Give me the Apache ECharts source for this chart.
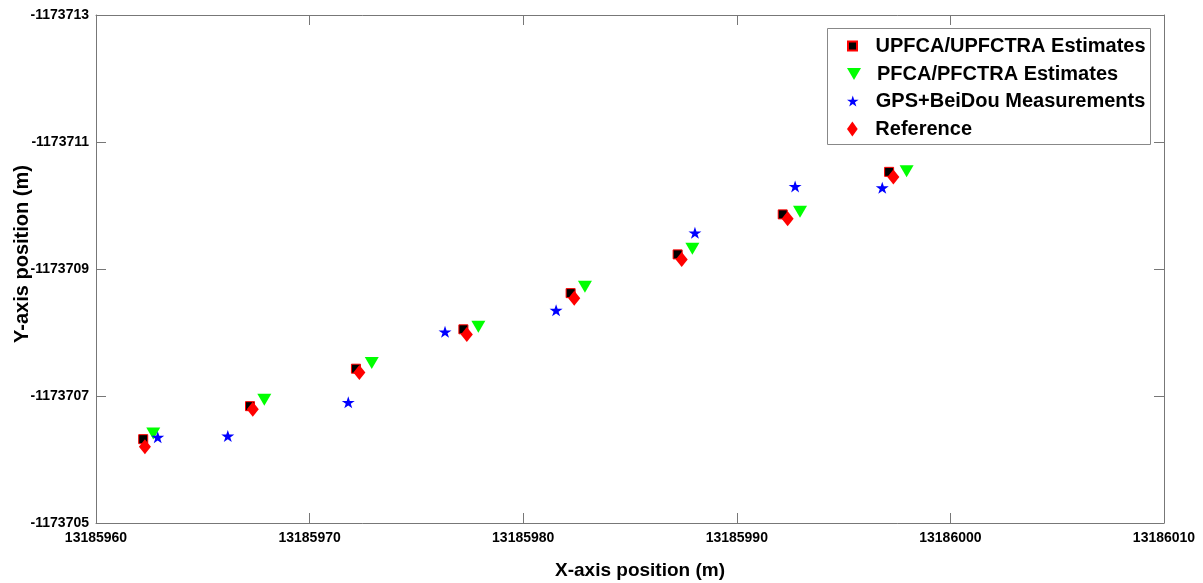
<!DOCTYPE html>
<html>
<head>
<meta charset="utf-8">
<script src="https://cdn.jsdelivr.net/npm/echarts@6/dist/echarts.min.js"></script>
<style>
html,body{margin:0;padding:0;background:#fff;}
#chart{width:1203px;height:583px;}
</style>
</head>
<body>
<div id="chart"></div>
<script>
// Series names
const seriesNames = ['UPFCA/UPFCTRA Estimates', 'PFCA/PFCTRA Estimates', 'GPS+BeiDou Measurements', 'Reference'];

// UPFCA/UPFCTRA Estimates
const upfcaX = [13185962.21, 13185967.21, 13185972.17, 13185977.20, 13185982.22, 13185987.23, 13185992.15, 13185997.13];
const upfcaY = [-1173706.32, -1173706.84, -1173707.43, -1173708.05, -1173708.62, -1173709.23, -1173709.86, -1173710.53];

// PFCA/PFCTRA Estimates
const pfcaX = [13185962.68, 13185967.88, 13185972.91, 13185977.90, 13185982.89, 13185987.92, 13185992.96, 13185997.95];
const pfcaY = [-1173706.41, -1173706.94, -1173707.52, -1173708.09, -1173708.72, -1173709.32, -1173709.90, -1173710.54];

// GPS+BeiDou Measurements
const gpsX = [13185962.89, 13185966.17, 13185971.81, 13185976.34, 13185981.54, 13185988.04, 13185992.73, 13185996.81];
const gpsY = [-1173706.35, -1173706.37, -1173706.90, -1173708.01, -1173708.35, -1173709.57, -1173710.30, -1173710.28];

// Reference
const refX = [13185962.29, 13185967.34, 13185972.33, 13185977.36, 13185982.39, 13185987.42, 13185992.38, 13185997.33];
const refY = [-1173706.20, -1173706.79, -1173707.37, -1173707.97, -1173708.54, -1173709.15, -1173709.79, -1173710.45];

// Axis ticks
const xMin = 13185960, xMax = 13186010, xStep = 10;
const yTicks = [-1173713, -1173711, -1173709, -1173707, -1173705];

const zip = (xs, ys) => xs.map((x, i) => [x, ys[i]]);

const FONT = 'Liberation Sans, Arial, Helvetica, sans-serif';
const AXIS_COLOR = '#777';
const SQUARE = 'path://M0,0H10V10H0Z';
const TRI_DOWN = 'path://M0,0L14,0L7,12Z';
const STAR = 'path://M50,0L61.2,34.5L97.6,34.5L68.2,55.9L79.4,90.5L50,69.1L20.6,90.5L31.8,55.9L2.4,34.5L38.8,34.5Z';
const DIAMOND = 'path://M5,0L10,7L5,14L0,7Z';

const legendRows = [
  {name: seriesNames[0], icon: SQUARE, cy: 46, h: 9},
  {name: seriesNames[1], icon: TRI_DOWN, cy: 74, h: 12},
  {name: seriesNames[2], icon: STAR, cy: 101, h: 11},
  {name: seriesNames[3], icon: DIAMOND, cy: 129, h: 15}
];

const legends = legendRows.map(r => ({
  data: [{name: r.name, icon: r.icon}],
  orient: 'vertical',
  left: 847,
  top: r.cy - 10,
  padding: 0,
  itemWidth: 36,
  itemHeight: r.h,
  symbolKeepAspect: true,
  selectedMode: false,
  textStyle: {fontFamily: FONT, fontSize: 20, fontWeight: 'bold', color: '#000', lineHeight: 20}
}));

const chart = echarts.init(document.getElementById('chart'), null, {renderer: 'canvas'});
chart.setOption({
  animation: false,
  backgroundColor: '#fff',
  grid: {left: 96, right: 39, top: 15, bottom: 60, containLabel: false, outerBoundsMode: 'none'},
  graphic: [{
    type: 'rect', left: 827, top: 28, z: 0,
    shape: {width: 323, height: 116},
    style: {fill: '#fff', stroke: '#888', lineWidth: 1}
  }],
  legend: legends,
  xAxis: [{
    type: 'value', position: 'bottom', min: xMin, max: xMax, interval: xStep,
    name: 'X-axis position (m)', nameLocation: 'middle', nameGap: 38, nameMoveOverlap: false,
    nameTextStyle: {fontFamily: FONT, fontSize: 19, fontWeight: 'bold', color: '#000', padding: [0, 0, 0, 20]},
    axisLine: {show: true, lineStyle: {color: AXIS_COLOR, width: 1}},
    axisTick: {show: true, inside: true, length: 10, lineStyle: {color: AXIS_COLOR}},
    axisLabel: {fontFamily: FONT, fontSize: 14, fontWeight: 'bold', color: '#000', margin: 8,
      formatter: v => String(v), showMinLabel: true, showMaxLabel: true},
    splitLine: {show: false}
  }, {
    type: 'value', position: 'top', min: xMin, max: xMax, interval: xStep,
    axisLine: {show: true, lineStyle: {color: AXIS_COLOR, width: 1}},
    axisTick: {show: true, inside: true, length: 10, lineStyle: {color: AXIS_COLOR}},
    axisLabel: {show: false},
    splitLine: {show: false}
  }],
  yAxis: [{
    type: 'value', position: 'left', inverse: true, min: yTicks[0], max: yTicks[yTicks.length - 1],
    name: 'Y-axis position (m)', nameLocation: 'middle', nameGap: 64, nameRotate: 90, nameMoveOverlap: false,
    nameTextStyle: {fontFamily: FONT, fontSize: 20, fontWeight: 'bold', color: '#000', padding: [0, 0, 0, 30]},
    axisLine: {show: true, lineStyle: {color: AXIS_COLOR, width: 1}},
    axisTick: {show: true, inside: true, length: 10, customValues: yTicks, lineStyle: {color: AXIS_COLOR}},
    axisLabel: {fontFamily: FONT, fontSize: 14, fontWeight: 'bold', color: '#000', margin: 7,
      customValues: yTicks, formatter: v => String(v)},
    splitLine: {show: false}
  }, {
    type: 'value', position: 'right', inverse: true, min: yTicks[0], max: yTicks[yTicks.length - 1],
    axisLine: {show: true, lineStyle: {color: AXIS_COLOR, width: 1}},
    axisTick: {show: true, inside: true, length: 10, customValues: yTicks, lineStyle: {color: AXIS_COLOR}},
    axisLabel: {show: false},
    splitLine: {show: false}
  }],
  series: [{
    name: seriesNames[0], type: 'scatter', xAxisIndex: 0, yAxisIndex: 0,
    symbol: 'rect', symbolSize: 9,
    itemStyle: {color: '#000', borderColor: '#ff0000', borderWidth: 1, opacity: 1},
    data: zip(upfcaX, upfcaY), z: 2
  }, {
    name: seriesNames[1], type: 'scatter', xAxisIndex: 0, yAxisIndex: 0,
    symbol: TRI_DOWN, symbolSize: [14, 12],
    itemStyle: {color: '#00ff00', opacity: 1},
    data: zip(pfcaX, pfcaY), z: 3
  }, {
    name: seriesNames[2], type: 'scatter', xAxisIndex: 0, yAxisIndex: 0,
    symbol: STAR, symbolSize: [13, 12],
    itemStyle: {color: '#0000ff', opacity: 1},
    data: zip(gpsX, gpsY), z: 4
  }, {
    name: seriesNames[3], type: 'scatter', xAxisIndex: 0, yAxisIndex: 0,
    symbol: 'diamond', symbolSize: [12, 15],
    itemStyle: {color: '#ff0000', opacity: 1},
    data: zip(refX, refY), z: 5
  }]
});
</script>
</body>
</html>
